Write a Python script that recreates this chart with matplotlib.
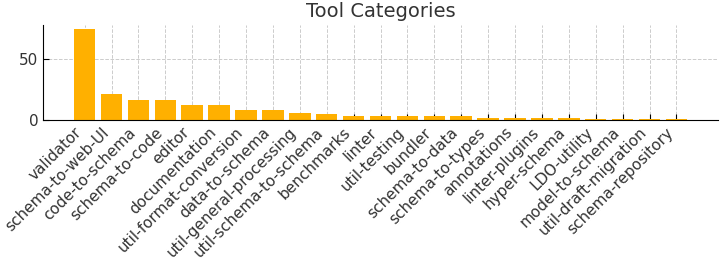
import matplotlib
matplotlib.use("Agg")
import matplotlib.pyplot as plt

categories = ["validator", "schema-to-web-UI", "code-to-schema", "schema-to-code",
              "editor", "documentation", "util-format-conversion", "data-to-schema",
              "util-general-processing", "util-schema-to-schema", "benchmarks", "linter",
              "util-testing", "bundler", "schema-to-data", "schema-to-types",
              "annotations", "linter-plugins", "hyper-schema", "LDO-utility",
              "model-to-schema", "util-draft-migration", "schema-repository"]
counts = [74, 21, 16, 16, 12, 12, 8, 8, 6, 5, 3, 3, 3, 3, 3, 2, 2, 2, 2, 1, 1, 1, 1]

fig = plt.figure(figsize=(7.2, 2.62), dpi=100)
ax = fig.add_axes([0.06, 0.542, 0.937, 0.363])
ax.bar(categories, counts, color="#FFB000", width=0.8, zorder=2)
ax.set_title("Tool Categories", fontsize=14, color="#333333")
ax.grid(True, linestyle="--", color="#cccccc", linewidth=0.7, zorder=0)
ax.set_axisbelow(True)
for s in ["top", "right"]:
    ax.spines[s].set_visible(False)
ax.tick_params(direction="in", length=4, labelsize=11, labelcolor="#333333")
plt.setp(ax.get_xticklabels(), rotation=45, ha="right")
ax.set_yticks([0, 50])
fig.savefig("out.png", dpi=100)
